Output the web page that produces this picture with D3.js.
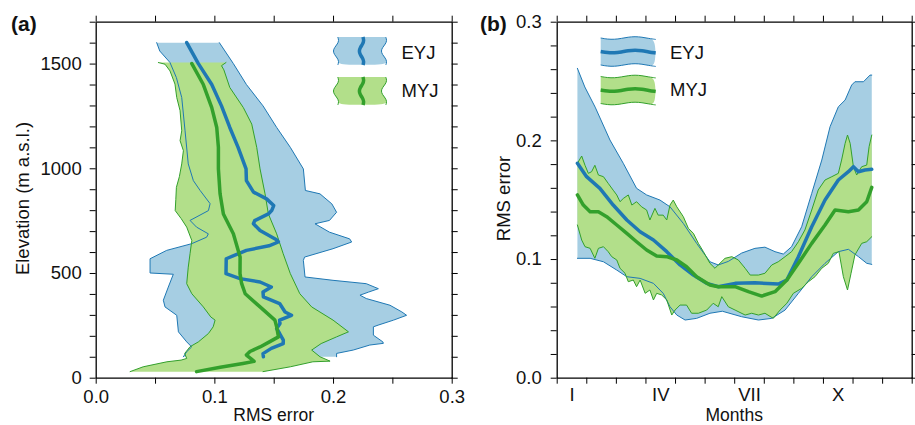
<!DOCTYPE html>
<html>
<head>
<meta charset="utf-8">
<script src="https://cdn.jsdelivr.net/npm/d3@7"></script>
<style>
body { margin: 0; background: #fff; }
svg { font-family: "Liberation Sans", Arial, sans-serif; }
</style>
</head>
<body>
<svg width="915" height="425"></svg>
<script>
// ---- panel (a): [elevation m, RMS error] ----
var eyjMeanA = [[1600,0.0767],[1500,0.0865],[1400,0.0978],[1298,0.106],[1195,0.113],[1100,0.12],[997,0.1267],[941,0.127],[886,0.133],[854,0.144],[822,0.150],[798,0.1483],[782,0.1455],[750,0.134],[735,0.1329],[703,0.1385],[660,0.152],[648,0.1539],[630,0.146],[608,0.127],[568,0.110],[497,0.1098],[473,0.1216],[457,0.1385],[433,0.148],[409,0.141],[386,0.1413],[354,0.155],[314,0.1596],[298,0.165],[275,0.155],[259,0.1553],[235,0.1525],[211,0.155],[179,0.1581],[163,0.158],[140,0.148],[115,0.141],[100,0.1413]];
var eyjLowA = [[1600,0.0514],[1560,0.054],[1505,0.0626],[1433,0.068],[1338,0.0725],[1179,0.0753],[1021,0.078],[941,0.0823],[894,0.088],[831,0.0964],[798,0.095],[751,0.0795],[719,0.085],[687,0.0949],[671,0.0935],[640,0.0809],[608,0.0598],[568,0.0458],[500,0.0458],[494,0.0654],[433,0.0612],[370,0.057],[338,0.0584],[298,0.0683],[219,0.0697],[171,0.0767],[147,0.0809],[124,0.0767],[100,0.0739]];
var eyjHighA = [[1600,0.1042],[1500,0.116],[1400,0.127],[1298,0.141],[1195,0.1525],[1100,0.164],[997,0.175],[894,0.1767],[878,0.189],[830,0.199],[790,0.203],[751,0.197],[735,0.1848],[695,0.197],[663,0.214],[648,0.2157],[616,0.200],[576,0.176],[560,0.175],[481,0.1764],[465,0.200],[449,0.228],[425,0.2382],[409,0.230],[394,0.2227],[378,0.228],[346,0.248],[314,0.258],[298,0.262],[275,0.251],[251,0.238],[243,0.234],[203,0.234],[171,0.242],[164,0.2424],[156,0.231],[132,0.217],[116,0.203],[100,0.203]];
var myjMeanA = [[1500,0.081],[1400,0.0907],[1290,0.0978],[1195,0.102],[1100,0.1034],[997,0.1034],[878,0.1048],[782,0.1076],[687,0.116],[576,0.1217],[497,0.1216],[449,0.123],[401,0.126],[338,0.1385],[275,0.151],[243,0.1525],[195,0.154],[170,0.146],[147,0.1385],[125,0.130],[108,0.127],[90,0.131],[78,0.1335],[68,0.124],[50,0.105],[29,0.085]];
var myjLowA = [[1505,0.0528],[1497,0.0584],[1465,0.0626],[1402,0.0668],[1338,0.0683],[1275,0.0711],[1179,0.0725],[1132,0.0711],[1084,0.0739],[1021,0.0725],[960,0.0705],[909,0.068],[850,0.0675],[798,0.067],[760,0.072],[719,0.0767],[655,0.081],[592,0.0795],[528,0.078],[449,0.0767],[401,0.081],[338,0.0907],[290,0.097],[275,0.1006],[243,0.099],[211,0.095],[171,0.0865],[148,0.0795],[116,0.075],[92,0.0767],[84,0.072],[76,0.060],[52,0.040],[29,0.029]];
var myjHighA = [[1505,0.1098],[1490,0.106],[1470,0.108],[1386,0.113],[1290,0.1244],[1211,0.1315],[1100,0.1357],[997,0.1385],[878,0.1427],[782,0.1455],[687,0.1525],[592,0.158],[497,0.164],[401,0.172],[338,0.182],[275,0.200],[219,0.213],[195,0.203],[163,0.190],[132,0.182],[100,0.189],[79,0.1975],[76,0.183],[52,0.164],[29,0.141]];

// ---- panel (b): [month, RMS error] ----
var eyjMeanB = [[0.70,0.1807],[1.01,0.1694],[1.46,0.1596],[1.91,0.1455],[2.37,0.1329],[2.82,0.123],[3.27,0.116],[3.72,0.1062],[4.17,0.095],[4.62,0.0865],[5.07,0.0795],[5.46,0.0767],[6.03,0.0795],[6.7,0.080],[7.49,0.0789],[7.78,0.0823],[8.17,0.102],[8.62,0.1272],[9.07,0.1497],[9.52,0.1666],[9.86,0.1736],[10.03,0.1778],[10.2,0.1736],[10.42,0.175],[10.65,0.1756]];
var eyjLowB = [[0.70,0.1006],[1.13,0.1006],[1.58,0.0977],[2.03,0.0907],[2.37,0.0851],[2.82,0.0837],[3.27,0.0795],[3.6,0.0711],[3.83,0.0598],[4.06,0.0528],[4.34,0.0486],[4.73,0.050],[5.18,0.0543],[5.6,0.056],[6.25,0.0514],[6.82,0.0486],[7.27,0.050],[7.72,0.057],[8.17,0.0711],[8.62,0.0851],[9.07,0.0964],[9.52,0.1062],[9.86,0.1082],[10.2,0.102],[10.48,0.0964],[10.65,0.0955]];
var eyjHighB = [[0.70,0.2607],[0.95,0.245],[1.3,0.228],[1.8,0.2003],[2.25,0.1807],[2.7,0.1596],[3.04,0.154],[3.49,0.1497],[3.83,0.144],[4.28,0.130],[4.73,0.1132],[5.18,0.0977],[5.46,0.095],[5.8,0.098],[6.25,0.105],[6.7,0.109],[7.04,0.110],[7.38,0.1062],[7.66,0.1042],[7.94,0.1104],[8.28,0.1272],[8.62,0.1553],[8.96,0.1834],[9.24,0.2115],[9.52,0.2283],[9.75,0.234],[9.97,0.2466],[10.08,0.2494],[10.37,0.2494],[10.59,0.255],[10.65,0.255]];
var myjMeanB = [[0.70,0.154],[0.9,0.1455],[1.13,0.1399],[1.41,0.1399],[1.69,0.1357],[2.03,0.1287],[2.37,0.1217],[2.7,0.1146],[3.04,0.1076],[3.38,0.1025],[3.72,0.102],[4.06,0.0992],[4.39,0.0935],[4.73,0.0851],[5.18,0.0781],[5.46,0.0767],[6.03,0.0767],[6.48,0.0725],[6.93,0.0688],[7.38,0.0725],[7.78,0.0823],[8.17,0.0964],[8.62,0.1132],[9.07,0.1287],[9.41,0.1413],[9.86,0.1399],[10.2,0.1413],[10.48,0.1483],[10.65,0.1604]];
var myjLowB = [[0.70,0.1287],[0.845,0.116],[0.957,0.1104],[1.13,0.109],[1.29,0.1006],[1.41,0.109],[1.58,0.1104],[1.74,0.1062],[1.86,0.102],[2.03,0.0992],[2.14,0.0922],[2.31,0.088],[2.42,0.0809],[2.59,0.0823],[2.7,0.0767],[2.82,0.0823],[2.99,0.0711],[3.15,0.0739],[3.27,0.0655],[3.38,0.0711],[3.55,0.0697],[3.72,0.0655],[3.89,0.0528],[4.0,0.057],[4.17,0.0612],[4.39,0.0612],[4.56,0.0543],[4.79,0.0543],[5.07,0.057],[5.29,0.0627],[5.46,0.0598],[5.58,0.0683],[5.8,0.0598],[6.03,0.057],[6.37,0.0528],[6.59,0.0543],[6.82,0.0528],[7.04,0.0543],[7.32,0.050],[7.55,0.057],[7.78,0.0627],[8.0,0.0711],[8.28,0.0753],[8.51,0.0809],[8.73,0.0851],[8.96,0.0922],[9.18,0.0964],[9.35,0.1048],[9.54,0.1062],[9.69,0.0851],[9.83,0.0739],[9.95,0.088],[10.08,0.1034],[10.31,0.1132],[10.48,0.1146],[10.65,0.1188]];
var myjHighB = [[0.70,0.1807],[0.845,0.1868],[0.957,0.179],[1.07,0.1722],[1.18,0.1736],[1.29,0.179],[1.41,0.1708],[1.58,0.1694],[1.74,0.1638],[1.91,0.158],[2.03,0.154],[2.14,0.1483],[2.25,0.151],[2.42,0.154],[2.54,0.1455],[2.7,0.1483],[2.87,0.144],[3.04,0.1413],[3.15,0.1329],[3.32,0.1427],[3.43,0.137],[3.6,0.137],[3.72,0.1329],[3.83,0.1455],[3.94,0.1497],[4.06,0.144],[4.28,0.1357],[4.45,0.1259],[4.62,0.1217],[4.79,0.1132],[4.96,0.1062],[5.18,0.0964],[5.35,0.0922],[5.46,0.095],[5.69,0.1006],[5.92,0.102],[6.14,0.0992],[6.37,0.0922],[6.54,0.0865],[6.82,0.0865],[7.04,0.088],[7.27,0.095],[7.49,0.0977],[7.72,0.102],[7.94,0.1062],[8.17,0.1146],[8.39,0.1245],[8.62,0.1413],[8.84,0.1582],[9.07,0.1666],[9.3,0.1694],[9.52,0.1722],[9.63,0.1834],[9.75,0.1975],[9.83,0.2045],[9.92,0.1975],[10.03,0.1778],[10.14,0.1708],[10.31,0.1778],[10.48,0.1792],[10.56,0.1947],[10.65,0.2045]];

// axis ticks and labels
var xTicksA = [0, 0.05, 0.1, 0.15, 0.2, 0.25, 0.3];
var xLabelsA = [0, 0.1, 0.2, 0.3];
var yTicksA = [0,100,200,300,400,500,600,700,800,900,1000,1100,1200,1300,1400,1500,1600,1700];
var yLabelsA = [0, 500, 1000, 1500];
var monthTicks = [0,1,2,3,4,5,6,7,8,9,10,11,12];
var monthLabels = ["I", "IV", "VII", "X"];
var monthLabelPos = [0.5, 3.5, 6.5, 9.5];
var yTicksB = [0,0.02,0.04,0.06,0.08,0.1,0.12,0.14,0.16,0.18,0.2,0.22,0.24,0.26,0.28,0.3];
var yLabelsB = [0, 0.1, 0.2, 0.3];
var seriesNames = ["EYJ", "MYJ"];

var blueFill = "#a6cee3", blueLine = "#1f78b4";
var greenFill = "#b2df8a", greenLine = "#33a02c";
var fontSize = "18.5px";

var svg = d3.select("svg");

// scales
var xa = d3.scaleLinear().domain([0, 0.3]).range([95.7, 451.7]);
var ya = d3.scaleLinear().domain([0, 1700]).range([377.7, 21.7]);
var xb = d3.scaleLinear().domain([0, 12]).range([556.7, 911.7]);
var yb = d3.scaleLinear().domain([0, 0.3]).range([377.7, 21.7]);

// panel a lines use (value, elevation)
var lineA = d3.line().x(function(d) { return xa(d[1]); }).y(function(d) { return ya(d[0]); });
var lineB = d3.line().x(function(d) { return xb(d[0]); }).y(function(d) { return yb(d[1]); });

function band(g, line, hi, lo, fill) {
  g.append("path")
    .attr("d", line(hi.concat(lo.slice().reverse())) + "Z")
    .attr("fill", fill).attr("stroke", "none");
}
function edge(g, line, pts, col, w) {
  g.append("path").attr("d", line(pts))
    .attr("fill", "none").attr("stroke", col).attr("stroke-width", w)
    .attr("stroke-linejoin", "round").attr("stroke-linecap", "round");
}

// ---- panel a marks ----
var ga = svg.append("g");
band(ga, lineA, eyjHighA, eyjLowA, blueFill);
band(ga, lineA, myjHighA, myjLowA, greenFill);
edge(ga, lineA, eyjLowA, blueLine, 1);
edge(ga, lineA, eyjHighA, blueLine, 1);
edge(ga, lineA, myjLowA, greenLine, 1);
edge(ga, lineA, myjHighA, greenLine, 1);
edge(ga, lineA, eyjMeanA, blueLine, 3.5);
edge(ga, lineA, myjMeanA, greenLine, 3.5);

// ---- panel b marks ----
var gb = svg.append("g");
band(gb, lineB, eyjHighB, eyjLowB, blueFill);
band(gb, lineB, myjHighB, myjLowB, greenFill);
edge(gb, lineB, eyjLowB, blueLine, 1);
edge(gb, lineB, eyjHighB, blueLine, 1);
edge(gb, lineB, myjLowB, greenLine, 1);
edge(gb, lineB, myjHighB, greenLine, 1);
edge(gb, lineB, eyjMeanB, blueLine, 3.5);
edge(gb, lineB, myjMeanB, greenLine, 3.5);

// ---- axes ----
function styleAxis(g) {
  g.select(".domain").attr("stroke", "#000").attr("stroke-width", 1.3);
  g.selectAll(".tick line").attr("stroke", "#000").attr("stroke-width", 1);
  g.selectAll("text").attr("font-size", fontSize).attr("fill", "#111")
    .attr("font-family", "Liberation Sans, Arial, sans-serif");
}
function pick(list, fmt) {
  return function(d) {
    var ok = list.some(function(v) { return Math.abs(v - d) < 1e-9; });
    return ok ? fmt(d) : "";
  };
}

svg.append("g").attr("transform", "translate(0,377.7)")
  .call(d3.axisBottom(xa).tickValues(xTicksA).tickSize(6).tickSizeOuter(0).tickPadding(6)
    .tickFormat(pick(xLabelsA, d3.format(".1f")))).call(styleAxis);
svg.append("g").attr("transform", "translate(0,21.7)")
  .call(d3.axisTop(xa).tickValues(xTicksA).tickSize(6).tickSizeOuter(0).tickFormat("")).call(styleAxis);
svg.append("g").attr("transform", "translate(95.7,0)")
  .call(d3.axisLeft(ya).tickValues(yTicksA).tickSize(6).tickSizeOuter(0).tickPadding(8)
    .tickFormat(pick(yLabelsA, d3.format("d")))).call(styleAxis);
svg.append("g").attr("transform", "translate(451.7,0)")
  .call(d3.axisRight(ya).tickValues(yTicksA).tickSize(6).tickSizeOuter(0).tickFormat("")).call(styleAxis);

svg.append("g").attr("transform", "translate(0,377.7)")
  .call(d3.axisBottom(xb).tickValues(monthTicks).tickSize(6).tickSizeOuter(0).tickFormat("")).call(styleAxis);
svg.append("g").attr("transform", "translate(0,377.7)")
  .call(d3.axisBottom(xb).tickValues(monthLabelPos).tickSize(0).tickPadding(10)
    .tickFormat(function(d, i) { return monthLabels[i]; })).call(styleAxis)
  .select(".domain").remove();
svg.append("g").attr("transform", "translate(0,21.7)")
  .call(d3.axisTop(xb).tickValues(monthTicks).tickSize(6).tickSizeOuter(0).tickFormat("")).call(styleAxis);
svg.append("g").attr("transform", "translate(556.7,0)")
  .call(d3.axisLeft(yb).tickValues(yTicksB).tickSize(6).tickSizeOuter(0).tickPadding(9)
    .tickFormat(pick(yLabelsB, d3.format(".1f")))).call(styleAxis);
svg.append("g").attr("transform", "translate(911.7,0)")
  .call(d3.axisRight(yb).tickValues(yTicksB).tickSize(6).tickSizeOuter(0).tickFormat("")).call(styleAxis);

// ---- titles ----
function txt(x, y, s, opts) {
  var t = svg.append("text").attr("x", x).attr("y", y).text(s)
    .attr("font-size", opts.size || fontSize).attr("fill", "#111");
  if (opts.anchor) t.attr("text-anchor", opts.anchor);
  if (opts.bold) t.attr("font-weight", "bold");
  if (opts.rotate) t.attr("transform", "rotate(-90," + x + "," + y + ")");
  return t;
}
txt(11, 31, "(a)", {size: "21px", bold: true});
txt(480, 31, "(b)", {size: "21px", bold: true});
txt(273.7, 421, "RMS error", {anchor: "middle", size: "17.5px"});
txt(734.2, 421, "Months", {anchor: "middle", size: "17.5px"});
txt(29, 198.5, "Elevation (m a.s.l.)", {anchor: "middle", rotate: true});
txt(509.5, 198.5, "RMS error", {anchor: "middle", rotate: true});

// ---- legends ----
var wave = d3.line().curve(d3.curveBasis);
function vWave(x, y0, y1, amp) {
  var p = [];
  for (var i = 0; i <= 8; i++) {
    var t = i / 8;
    p.push([x + amp * Math.sin(t * Math.PI * 2.6 + 0.6), y0 + (y1 - y0) * t]);
  }
  return p;
}
function hWave(x0, x1, y, amp) {
  var p = [];
  for (var i = 0; i <= 8; i++) {
    var t = i / 8;
    p.push([x0 + (x1 - x0) * t, y + amp * Math.sin(t * Math.PI * 2.4)]);
  }
  return p;
}
var fills = [blueFill, greenFill], lines = [blueLine, greenLine];

// legend (a): wavy vertical edges
seriesNames.forEach(function(name, i) {
  var y0 = 37 + i * 40, y1 = 65 + i * 40;
  var left = vWave(336, y0, y1, 3), right = vWave(384, y0, y1, 3);
  svg.append("path").attr("d", wave(left.concat(right.slice().reverse())) + "Z")
    .attr("fill", fills[i]);
  svg.append("path").attr("d", wave(left)).attr("fill", "none").attr("stroke", lines[i]).attr("stroke-width", 1);
  svg.append("path").attr("d", wave(right)).attr("fill", "none").attr("stroke", lines[i]).attr("stroke-width", 1);
  svg.append("path").attr("d", wave(vWave(361.5, y0, y1, 2.5))).attr("fill", "none")
    .attr("stroke", lines[i]).attr("stroke-width", 3.5);
  txt(401.5, 58.5 + i * 38, name, {});
});

// legend (b): wavy horizontal edges
seriesNames.forEach(function(name, i) {
  var yc = 51.5 + i * 38.5;
  var top = hWave(600.7, 655.7, yc - 13.5, 1.5), bot = hWave(600.7, 655.7, yc + 13.5, 1.5);
  svg.append("path").attr("d", wave(top.concat(bot.slice().reverse())) + "Z")
    .attr("fill", fills[i]);
  svg.append("path").attr("d", wave(top)).attr("fill", "none").attr("stroke", lines[i]).attr("stroke-width", 1);
  svg.append("path").attr("d", wave(bot)).attr("fill", "none").attr("stroke", lines[i]).attr("stroke-width", 1);
  svg.append("path").attr("d", wave(hWave(600.7, 655.7, yc, 1.5))).attr("fill", "none")
    .attr("stroke", lines[i]).attr("stroke-width", 3.5);
  txt(670, 58.5 + i * 37.5, name, {});
});
</script>
</body>
</html>
